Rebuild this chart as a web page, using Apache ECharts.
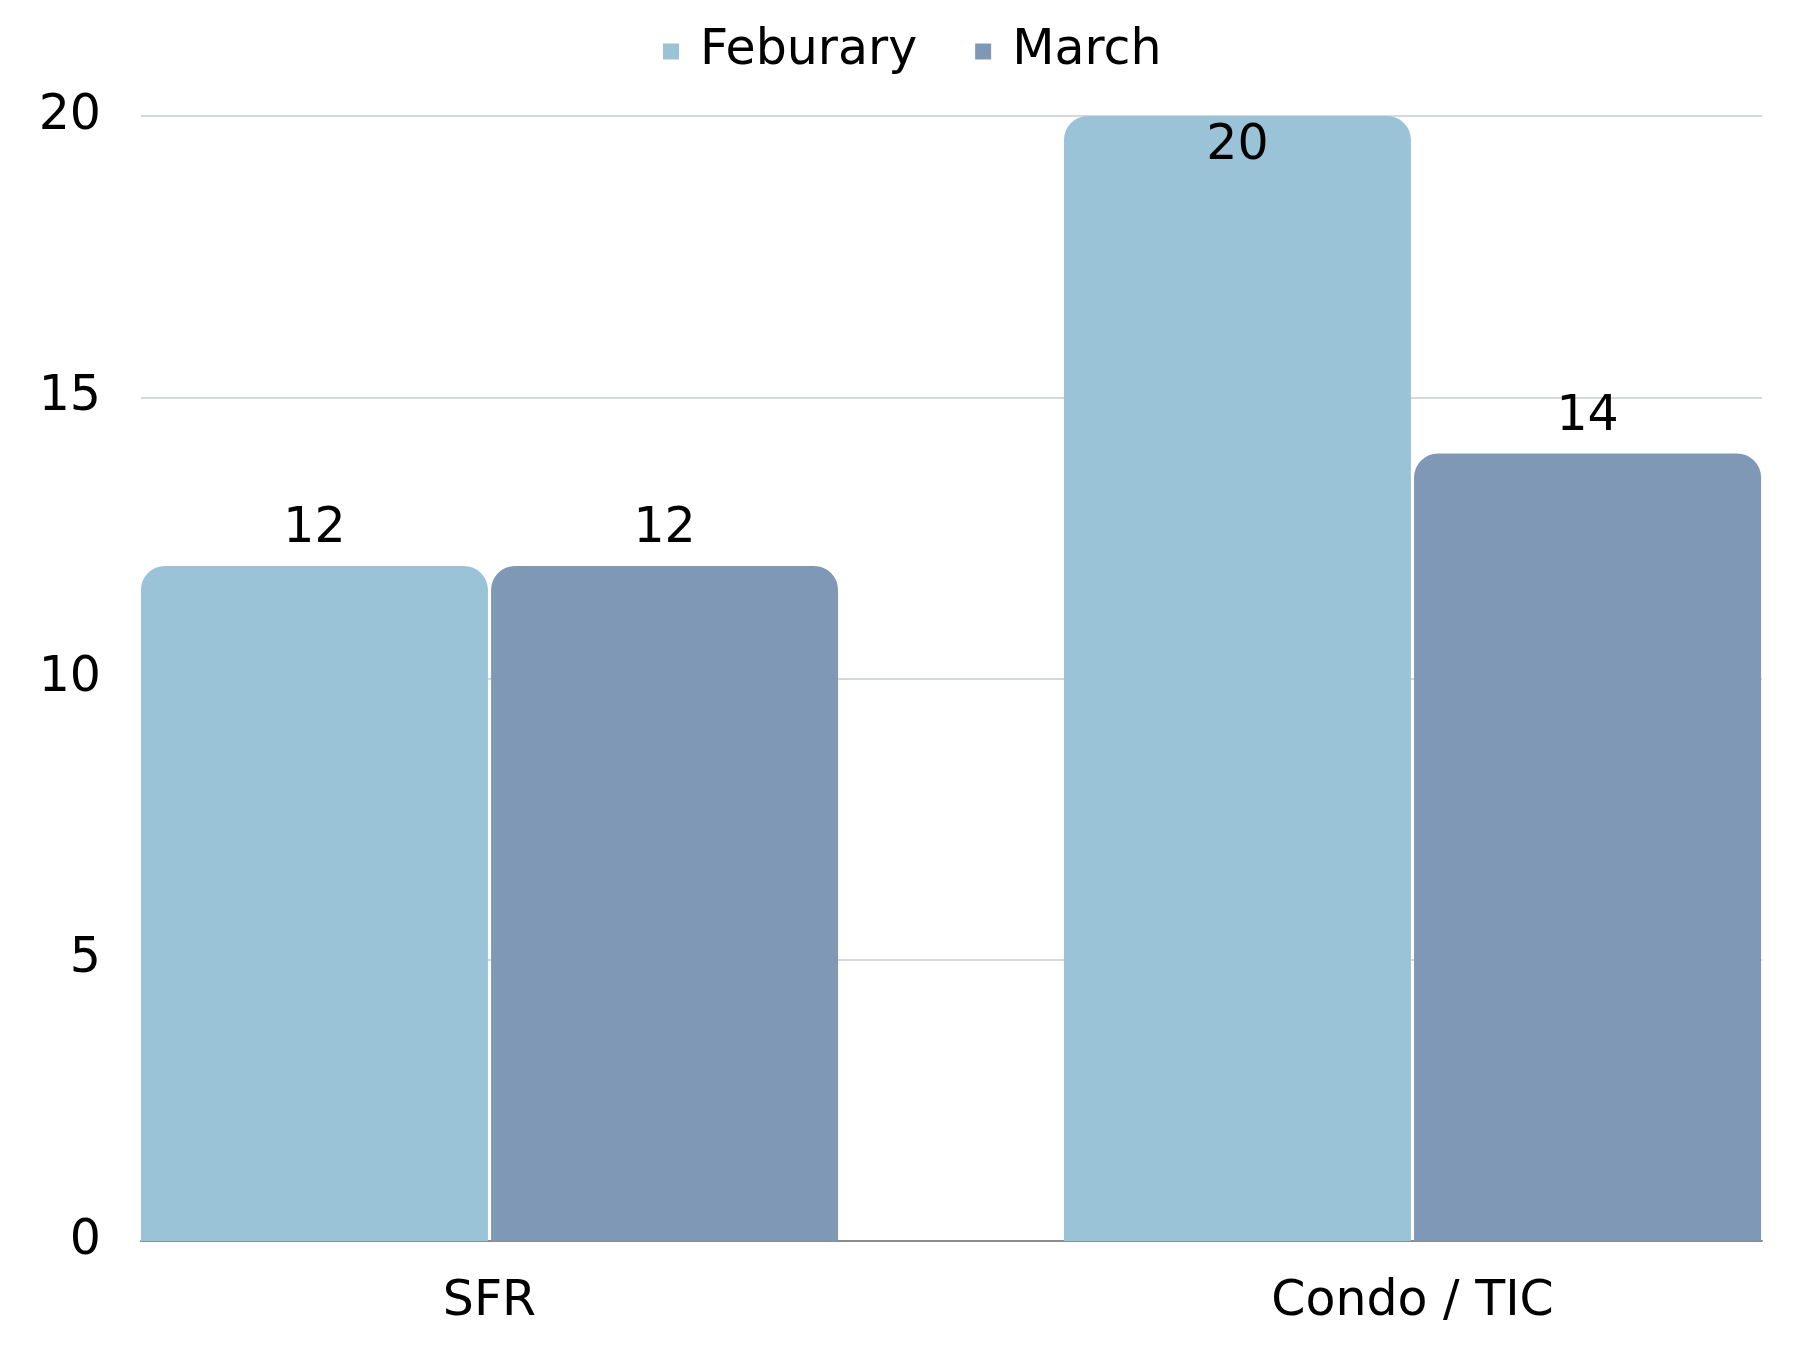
<!DOCTYPE html>
<html><head><meta charset="utf-8">
<script src="https://cdn.jsdelivr.net/npm/echarts@6/dist/echarts.min.js"></script>
<style>html,body{margin:0;padding:0;background:#fff}#c{width:1800px;height:1350px}</style>
</head><body><div id="c"></div>
<script>
const categories = ["SFR", "Condo / TIC"];
const seriesNames = ["Feburary", "March"];
const febValues = [12, 20];
const marValues = [12, 14];
const yTicks = [0, 5, 10, 15, 20];

const FONT = "DejaVu Sans";
const FS = 49;
const yMax = yTicks[yTicks.length - 1];
const colors = ["#9BC3D8", "#7F98B5"];

function items(vals) {
  return vals.map(v => v >= yMax ? {value: v, label: {position: "insideTop", distance: 6}} : v);
}

const chart = echarts.init(document.getElementById("c"));
chart.setOption({
  animation: false,
  legend: {
    data: seriesNames,
    top: 22, left: 658,
    itemWidth: 16, itemHeight: 16, itemGap: 58,
    icon: "rect",
    textStyle: {fontFamily: FONT, fontSize: FS, color: "#000", padding: [0, 0, 0, 16]}
  },
  grid: [
    {left: 141, right: 38, top: 116, bottom: 109, outerBoundsMode: "none"},
    {left: 28, width: 1846, top: 116, bottom: 109, outerBoundsMode: "none"}
  ],
  xAxis: [
    {type: "category", gridIndex: 0, data: categories,
     axisLine: {lineStyle: {color: "#8c8c8c", width: 2}}, axisTick: {show: false}, axisLabel: {show: false}},
    {type: "category", gridIndex: 1, data: categories,
     axisLine: {show: false}, axisTick: {show: false},
     axisLabel: {fontFamily: FONT, fontSize: FS, color: "#000", margin: 37}}
  ],
  yAxis: [
    {type: "value", gridIndex: 0, min: 0, max: yMax, interval: 5,
     axisLabel: {fontFamily: FONT, fontSize: FS, color: "#000", margin: 40, padding: [8, 0, 0, 0]},
     splitLine: {lineStyle: {color: "#c9cdd1", width: 1.5}}},
    {type: "value", gridIndex: 1, min: 0, max: yMax, interval: 5, show: false, splitLine: {show: false}}
  ],
  series: [
    {name: seriesNames[0], type: "bar", xAxisIndex: 1, yAxisIndex: 1, data: items(febValues),
     barWidth: 347, barGap: "0.9%", itemStyle: {color: colors[0], borderRadius: [24, 24, 0, 0]},
     label: {show: true, position: "top", distance: 12, fontFamily: FONT, fontSize: FS, color: "#000"}},
    {name: seriesNames[1], type: "bar", xAxisIndex: 1, yAxisIndex: 1, data: items(marValues),
     barWidth: 347, barGap: "0.9%", itemStyle: {color: colors[1], borderRadius: [24, 24, 0, 0]},
     label: {show: true, position: "top", distance: 12, fontFamily: FONT, fontSize: FS, color: "#000"}}
  ]
});
</script></body></html>
